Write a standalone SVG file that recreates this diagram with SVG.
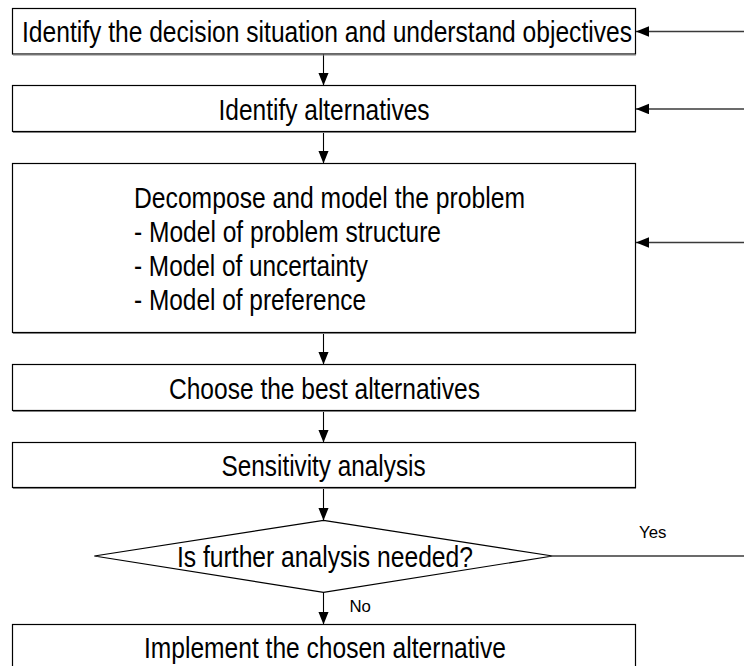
<svg xmlns="http://www.w3.org/2000/svg" width="744" height="666" viewBox="0 0 744 666">
  <style>
    .box { fill: #ffffff; stroke: #000000; stroke-width: 1.2; }
    .shade { stroke: #808080; stroke-width: 1; fill: none; }
    .lbl { font-family: "Liberation Sans", Arial, sans-serif; font-size: 28.9px; fill: #000000; }
    .mid { text-anchor: middle; }
    .small { font-family: "Liberation Sans", Arial, sans-serif; font-size: 16.8px; fill: #000000; }
    .flow { stroke: #000000; stroke-width: 1.1; fill: none; }
    .back { stroke: #3a3a3a; stroke-width: 1.5; fill: none; }
  </style>
  <defs>
    <marker id="head" markerUnits="userSpaceOnUse" markerWidth="14" markerHeight="11" refX="13" refY="5.25" orient="auto">
      <path d="M0,0 L13,5.25 L0,10.5 z" fill="#000000"/>
    </marker>
  </defs>
  <rect width="744" height="666" fill="#ffffff"/>

  <!-- connectors -->
  <g id="connectors">
    <line class="flow" x1="323.5" y1="54" x2="323.5" y2="85.5" marker-end="url(#head)"/>
    <line class="flow" x1="323.5" y1="131.5" x2="323.5" y2="163.5" marker-end="url(#head)"/>
    <line class="flow" x1="323.5" y1="332.5" x2="323.5" y2="364.5" marker-end="url(#head)"/>
    <line class="flow" x1="323.5" y1="410.5" x2="323.5" y2="442.5" marker-end="url(#head)"/>
    <line class="flow" x1="323.5" y1="487.5" x2="323.5" y2="520.5" marker-end="url(#head)"/>
    <line class="flow" x1="323.5" y1="592" x2="323.5" y2="624.5" marker-end="url(#head)"/>
    <!-- feedback lines coming in from the right -->
    <line class="back" x1="744" y1="31.5" x2="636" y2="31.5" marker-end="url(#head)"/>
    <line class="back" x1="744" y1="109" x2="636" y2="109" marker-end="url(#head)"/>
    <line class="back" x1="744" y1="242.5" x2="636" y2="242.5" marker-end="url(#head)"/>
    <line class="back" x1="552.5" y1="556" x2="744" y2="556"/>
    <text class="small" x="639" y="537.5">Yes</text>
    <text class="small" x="349.5" y="611.5">No</text>
  </g>

  <g id="identify-situation">
    <rect class="box" x="12.5" y="8.5" width="623" height="45.5"/>
    <line class="shade" x1="13" y1="55" x2="636" y2="55"/>
    <text class="lbl mid" x="327" y="42.3" textLength="610" lengthAdjust="spacingAndGlyphs">Identify the decision situation and understand objectives</text>
  </g>

  <g id="identify-alternatives">
    <rect class="box" x="12.5" y="85.5" width="623" height="46"/>
    <line class="shade" x1="13" y1="132.5" x2="636" y2="132.5"/>
    <text class="lbl mid" x="324" y="119.5" textLength="211" lengthAdjust="spacingAndGlyphs">Identify alternatives</text>
  </g>

  <g id="decompose-model">
    <rect class="box" x="12.5" y="163.5" width="623" height="169"/>
    <line class="shade" x1="13" y1="333.5" x2="636" y2="333.5"/>
    <text class="lbl" x="134" y="207.5" textLength="391" lengthAdjust="spacingAndGlyphs">Decompose and model the problem</text>
    <text class="lbl" x="134" y="241.8" textLength="307" lengthAdjust="spacingAndGlyphs">- Model of problem structure</text>
    <text class="lbl" x="134" y="275.9" textLength="234" lengthAdjust="spacingAndGlyphs">- Model of uncertainty</text>
    <text class="lbl" x="134" y="309.6" textLength="232" lengthAdjust="spacingAndGlyphs">- Model of preference</text>
  </g>

  <g id="choose-best">
    <rect class="box" x="12.5" y="364.5" width="623" height="46"/>
    <line class="shade" x1="13" y1="411.5" x2="636" y2="411.5"/>
    <text class="lbl mid" x="324.5" y="398.5" textLength="311" lengthAdjust="spacingAndGlyphs">Choose the best alternatives</text>
  </g>

  <g id="sensitivity">
    <rect class="box" x="12.5" y="442.5" width="623" height="45"/>
    <line class="shade" x1="13" y1="488.5" x2="636" y2="488.5"/>
    <text class="lbl mid" x="323.6" y="476" textLength="204" lengthAdjust="spacingAndGlyphs">Sensitivity analysis</text>
  </g>

  <g id="further-analysis">
    <polygon class="box" points="323.5,520.3 552.7,556 323.5,592.3 94.3,556"/>
    <text class="lbl mid" x="325" y="567" textLength="296" lengthAdjust="spacingAndGlyphs">Is further analysis needed?</text>
  </g>

  <g id="implement">
    <rect class="box" x="12.5" y="624.5" width="623" height="46"/>
    <text class="lbl mid" x="325" y="658.3" textLength="362" lengthAdjust="spacingAndGlyphs">Implement the chosen alternative</text>
  </g>
</svg>
